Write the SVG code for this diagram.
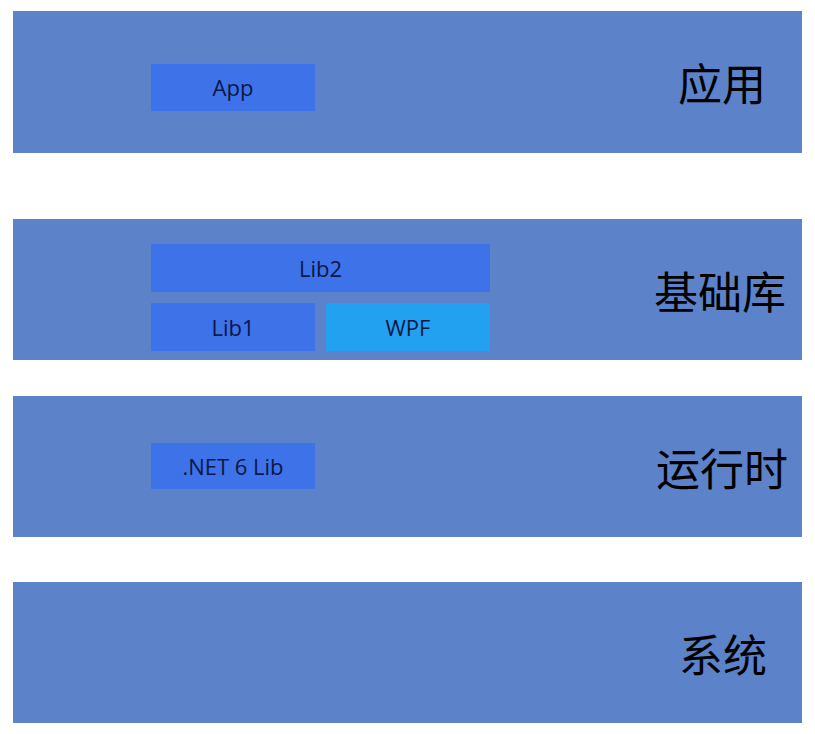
<svg xmlns="http://www.w3.org/2000/svg" width="815" height="734" viewBox="0 0 815 734">
<style>
.layer{fill:#5c83c9}
.box{fill:#3d72e8}
.wpf{fill:#23a1f1}
.lbl{font-family:"Open Sans","Noto Sans",sans-serif;font-size:22px;fill:#0c1748;text-anchor:middle}
.big{font-family:"Noto Sans CJK SC","Noto Sans",sans-serif;font-size:44px;fill:#000;text-anchor:middle}
</style>
<rect width="815" height="734" fill="#ffffff"/>
<g id="layer-app">
<rect class="layer" x="13" y="11" width="789" height="142"/>
<text class="big" x="722" y="101">应用</text>
</g>
<g id="layer-lib">
<rect class="layer" x="13" y="219" width="789" height="141"/>
<text class="big" x="720" y="309">基础库</text>
</g>
<g id="layer-runtime">
<rect class="layer" x="13" y="396" width="789" height="141"/>
<text class="big" x="722" y="486">运行时</text>
</g>
<g id="layer-system">
<rect class="layer" x="13" y="582" width="789" height="141"/>
<text class="big" x="723" y="672">系统</text>
</g>
<g id="node-app">
<rect class="box" x="151" y="64" width="164" height="47"/>
<text class="lbl" x="233" y="96">App</text>
</g>
<g id="node-lib2">
<rect class="box" x="151" y="244" width="339" height="48"/>
<text class="lbl" x="320.5" y="277">Lib2</text>
</g>
<g id="node-lib1">
<rect class="box" x="151" y="303" width="164" height="48"/>
<text class="lbl" x="233" y="336">Lib1</text>
</g>
<g id="node-wpf">
<rect class="wpf" x="326" y="303" width="164" height="48"/>
<text class="lbl" x="408" y="336">WPF</text>
</g>
<g id="node-net">
<rect class="box" x="151" y="443" width="164" height="46"/>
<text class="lbl" x="233" y="475">.NET 6 Lib</text>
</g>
<g id="connectors"></g>
</svg>
